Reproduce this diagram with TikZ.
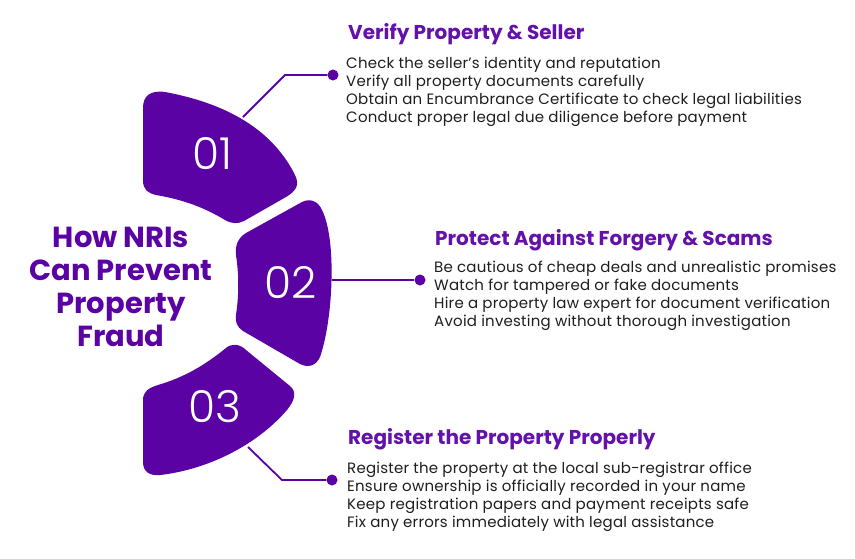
\documentclass[tikz,border=0pt]{standalone}
\usepackage{fontspec}
\setmainfont{Poppins}
\newfontfamily\numfont{Poppins}[UprightFont={* Light}]
\newfontfamily\bodyfont{Poppins}[LetterSpace=1.5]
\definecolor{purp}{HTML}{5B02A5}
\definecolor{headc}{HTML}{6410AA}
\definecolor{bodyc}{HTML}{1E1E1E}
\begin{document}
\begin{tikzpicture}[x=1pt,y=-1pt,
  seg/.style={fill=purp},
  num/.style={text=white,font={\numfont\fontsize{44}{44}\selectfont},inner sep=0pt},
  dot/.style={circle,fill=purp,minimum size=11pt,inner sep=0pt},
  conn/.style={draw=purp,line width=1.8pt},
  head/.style={text=headc,font={\bfseries\fontsize{20}{24}\selectfont},anchor=west,inner sep=0pt},
  body/.style={text=bodyc,font={\bodyfont\fontsize{15}{18}\selectfont},anchor=north west,align=left,inner sep=0pt},
  title/.style={text=purp,font={\bfseries\fontsize{29}{33}\selectfont},align=center,inner sep=0pt}]
\useasboundingbox (0,0) rectangle (855,558);
\fill[white] (0,0) rectangle (855,558);
% segment 01
\fill[seg] (143,108) -- (143,180)
  .. controls (143,190) and (148,193) .. (156,195)
  .. controls (185,200) and (205,208) .. (225,220)
  .. controls (232,224) and (238,224) .. (244,221)
  -- (286,197)
  .. controls (296,191) and (300,185) .. (295,175)
  .. controls (275,135) and (235,105) .. (165,92)
  .. controls (150,90) and (143,96) .. (143,108) -- cycle;
% segment 02
\fill[seg] (246,233)
  .. controls (238,238) and (235,245) .. (236,255)
  .. controls (239,275) and (239,295) .. (236,315)
  .. controls (235,322) and (237,327) .. (243,331)
  -- (300,364)
  .. controls (308,368) and (316,366) .. (320,357)
  .. controls (333,320) and (337,240) .. (322,210)
  .. controls (318,201) and (310,198) .. (302,202)
  -- cycle;
% segment 03
\fill[seg] (143,400) -- (143,462)
  .. controls (143,472) and (150,476) .. (160,475)
  .. controls (205,470) and (255,447) .. (287,410)
  .. controls (295,400) and (297,392) .. (290,386)
  -- (246,350)
  .. controls (240,344) and (232,343) .. (226,348)
  .. controls (205,365) and (185,377) .. (158,385)
  .. controls (148,388) and (143,392) .. (143,400) -- cycle;
\node[num] (n1) at (212,154) {01};
\node[num] (n2) at (291,282) {02};
\node[num] (n3) at (215,407) {03};
% title
\node[title] (t) at (121,287) {How NRIs\\Can Prevent\\Property\\Fraud};
% connectors
\node[dot] (d1) at (333,75) {};
\node[dot] (d2) at (420,280) {};
\node[dot] (d3) at (332,480) {};
\coordinate (c1) at (243,117);
\coordinate (k1) at (285,75);
\coordinate (c2) at (332,280);
\coordinate (c3) at (248,447);
\coordinate (k3) at (282,480);
\draw[conn] (c1) -- (k1) -- (d1);
\draw[conn] (c2) -- (d2);
\draw[conn] (c3) -- (k3) -- (d3);
% texts
\node[head] (h1) at (348,34) {Verify Property \& Seller};
\node[body] (b1) at (346,56.5) {Check the seller’s identity and reputation\\Verify all property documents carefully\\Obtain an Encumbrance Certificate to check legal liabilities\\Conduct proper legal due diligence before payment};
\node[head] (h2) at (435,240) {Protect Against Forgery \& Scams};
\node[body] (b2) at (434,261) {Be cautious of cheap deals and unrealistic promises\\Watch for tampered or fake documents\\Hire a property law expert for document verification\\Avoid investing without thorough investigation};
\node[head] (h3) at (348,439) {Register the Property Properly};
\node[body] (b3) at (347,461.5) {Register the property at the local sub-registrar office\\Ensure ownership is officially recorded in your name\\Keep registration papers and payment receipts safe\\Fix any errors immediately with legal assistance};
\end{tikzpicture}
\end{document}
